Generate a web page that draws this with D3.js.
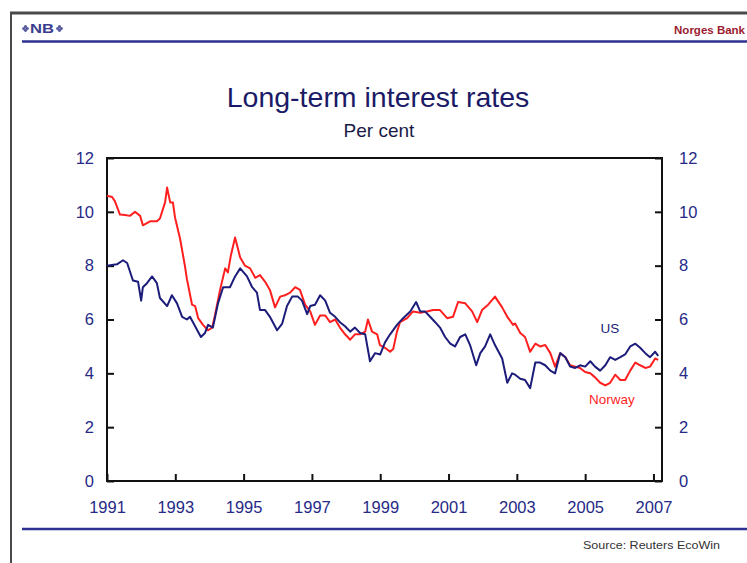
<!DOCTYPE html>
<html>
<head>
<meta charset="utf-8">
<script src="https://cdn.jsdelivr.net/npm/d3@7"></script>
<style>
  body { margin: 0; background: #fff; }
  svg { display: block; font-family: Arial, "Liberation Sans", sans-serif; }
  .tick text { fill: #262a86; font-size: 16.5px; }
  .tick line { stroke: #111; stroke-width: 2; }
</style>
</head>
<body>
<div id="chart"></div>
<script>
// long-term rates, per cent, [decimal year, value]
const norway = [
  [1991.00, 10.6], [1991.15, 10.55], [1991.23, 10.4], [1991.38, 9.9], [1991.53, 9.88],
  [1991.67, 9.85], [1991.82, 10.0], [1991.97, 9.85], [1992.05, 9.5], [1992.26, 9.65],
  [1992.46, 9.65], [1992.55, 9.75], [1992.70, 10.35], [1992.76, 10.9], [1992.85, 10.35],
  [1992.93, 10.35], [1992.99, 9.8], [1993.14, 9.0], [1993.28, 8.0], [1993.34, 7.5],
  [1993.49, 6.55], [1993.58, 6.5], [1993.67, 6.05], [1993.81, 5.8], [1993.96, 5.6],
  [1994.08, 5.7], [1994.16, 6.15], [1994.31, 7.1], [1994.46, 7.9], [1994.54, 7.75],
  [1994.63, 8.4], [1994.75, 9.05], [1994.90, 8.3], [1995.04, 8.0], [1995.19, 7.9],
  [1995.34, 7.55], [1995.48, 7.65], [1995.63, 7.4], [1995.77, 7.1], [1995.92, 6.45],
  [1996.07, 6.85], [1996.21, 6.9], [1996.36, 7.0], [1996.51, 7.2], [1996.65, 7.1],
  [1996.80, 6.55], [1996.95, 6.3], [1997.09, 5.8], [1997.24, 6.15], [1997.39, 6.15],
  [1997.53, 5.9], [1997.68, 6.0], [1997.82, 5.7], [1997.97, 5.45], [1998.12, 5.25],
  [1998.26, 5.45], [1998.41, 5.45], [1998.56, 5.55], [1998.64, 6.0], [1998.76, 5.55],
  [1998.91, 5.45], [1998.99, 5.05], [1999.14, 4.95], [1999.29, 4.8], [1999.38, 4.9],
  [1999.49, 5.55], [1999.58, 5.9], [1999.79, 6.05], [1999.96, 6.3], [2000.17, 6.25],
  [2000.37, 6.3], [2000.55, 6.35], [2000.75, 6.35], [2000.96, 6.05], [2001.13, 6.1],
  [2001.28, 6.65], [2001.49, 6.6], [2001.69, 6.3], [2001.84, 5.9], [2001.98, 6.35],
  [2002.16, 6.55], [2002.36, 6.85], [2002.57, 6.45], [2002.72, 6.1], [2002.89, 5.8],
  [2002.95, 5.85], [2003.10, 5.5], [2003.24, 5.35], [2003.39, 4.8], [2003.54, 5.1],
  [2003.68, 5.0], [2003.83, 5.05], [2003.98, 4.75], [2004.12, 4.25], [2004.27, 4.75],
  [2004.42, 4.6], [2004.56, 4.3], [2004.71, 4.25], [2004.85, 4.2], [2005.00, 4.05],
  [2005.15, 4.0], [2005.29, 3.85], [2005.44, 3.65], [2005.59, 3.55], [2005.73, 3.65],
  [2005.88, 3.95], [2006.03, 3.75], [2006.17, 3.75], [2006.32, 4.1], [2006.47, 4.4],
  [2006.61, 4.3], [2006.76, 4.2], [2006.90, 4.25], [2007.05, 4.55], [2007.14, 4.5]
];

const us = [
  [1991.00, 8.0], [1991.29, 8.05], [1991.47, 8.2], [1991.59, 8.1], [1991.76, 7.45],
  [1991.91, 7.4], [1992.00, 6.7], [1992.05, 7.2], [1992.17, 7.35], [1992.32, 7.6],
  [1992.46, 7.35], [1992.55, 6.8], [1992.76, 6.5], [1992.90, 6.9], [1993.05, 6.6],
  [1993.20, 6.1], [1993.34, 6.0], [1993.43, 6.1], [1993.58, 5.75], [1993.75, 5.35],
  [1993.87, 5.5], [1993.96, 5.8], [1994.10, 5.7], [1994.25, 6.6], [1994.40, 7.2],
  [1994.60, 7.2], [1994.75, 7.6], [1994.90, 7.9], [1995.10, 7.6], [1995.25, 7.2],
  [1995.39, 7.0], [1995.48, 6.35], [1995.63, 6.35], [1995.77, 6.1], [1995.98, 5.6],
  [1996.13, 5.85], [1996.27, 6.5], [1996.42, 6.85], [1996.59, 6.85], [1996.71, 6.7],
  [1996.86, 6.2], [1996.95, 6.5], [1997.09, 6.55], [1997.24, 6.9], [1997.39, 6.7],
  [1997.53, 6.25], [1997.68, 6.1], [1997.82, 5.9], [1997.97, 5.75], [1998.12, 5.55],
  [1998.26, 5.7], [1998.41, 5.5], [1998.56, 5.45], [1998.70, 4.45], [1998.85, 4.75],
  [1999.00, 4.7], [1999.14, 5.15], [1999.29, 5.45], [1999.49, 5.8], [1999.67, 6.05],
  [1999.88, 6.3], [2000.05, 6.65], [2000.17, 6.3], [2000.31, 6.3], [2000.46, 6.1],
  [2000.61, 5.9], [2000.75, 5.7], [2000.90, 5.35], [2001.05, 5.1], [2001.19, 5.0],
  [2001.34, 5.35], [2001.49, 5.45], [2001.63, 5.05], [2001.81, 4.3], [2001.93, 4.75],
  [2002.07, 5.0], [2002.22, 5.45], [2002.36, 5.05], [2002.57, 4.55], [2002.72, 3.65],
  [2002.86, 4.0], [2002.95, 3.95], [2003.10, 3.8], [2003.24, 3.75], [2003.39, 3.45],
  [2003.54, 4.4], [2003.68, 4.4], [2003.83, 4.3], [2003.98, 4.1], [2004.12, 4.0],
  [2004.27, 4.75], [2004.42, 4.6], [2004.56, 4.25], [2004.71, 4.2], [2004.85, 4.3],
  [2005.00, 4.25], [2005.15, 4.45], [2005.29, 4.25], [2005.44, 4.1], [2005.59, 4.3],
  [2005.73, 4.6], [2005.88, 4.5], [2006.03, 4.6], [2006.17, 4.7], [2006.32, 5.0],
  [2006.47, 5.1], [2006.61, 4.95], [2006.76, 4.75], [2006.90, 4.6], [2007.05, 4.8],
  [2007.14, 4.65]
];

const yearTicks = [1991, 1993, 1995, 1997, 1999, 2001, 2003, 2005, 2007];
const rateTicks = [0, 2, 4, 6, 8, 10, 12];

const width = 747;
const height = 563;
const NAVY = '#1c1c7a';
const RED = '#ff1f1f';

const svg = d3.select('#chart').append('svg')
  .attr('width', width)
  .attr('height', height);

// page frame
svg.append('line').attr('x1', 10).attr('x2', width).attr('y1', 13).attr('y2', 13)
  .attr('stroke', '#4a4a4a').attr('stroke-width', 3);
svg.append('line').attr('x1', 11).attr('x2', 11).attr('y1', 12).attr('y2', height)
  .attr('stroke', '#4a4a4a').attr('stroke-width', 2);

// header
svg.append('line').attr('x1', 22).attr('x2', width).attr('y1', 41.5).attr('y2', 41.5)
  .attr('stroke', '#2e3192').attr('stroke-width', 2.5);
svg.append('text').attr('x', 30).attr('y', 33)
  .attr('fill', '#3a3d8f').attr('font-size', 12.5).attr('font-weight', 'bold')
  .attr('textLength', 24).attr('lengthAdjust', 'spacingAndGlyphs')
  .text('NB');
// little flower marks either side of the logo
[[25.5, 28.5], [59.5, 28.5]].forEach(([cx, cy]) => {
  [[-1.8, 0], [1.8, 0], [0, -1.8], [0, 1.8]].forEach(([dx, dy]) => {
    svg.append('circle').attr('cx', cx + dx).attr('cy', cy + dy).attr('r', 1.6)
      .attr('fill', '#5a5d9f');
  });
});
svg.append('text').attr('x', 745).attr('y', 34)
  .attr('text-anchor', 'end').attr('fill', '#9b1c31')
  .attr('font-size', 11.5).attr('font-weight', 'bold')
  .text('Norges Bank');

// title
svg.append('text').attr('x', 378).attr('y', 107)
  .attr('text-anchor', 'middle').attr('fill', '#1b1a66').attr('font-size', 28.5)
  .text('Long-term interest rates');
svg.append('text').attr('x', 379).attr('y', 137)
  .attr('text-anchor', 'middle').attr('fill', '#1a1a48').attr('font-size', 19)
  .text('Per cent');

// scales
const x = d3.scaleLinear().domain([1991, 2007.25]).range([107, 662]);
const y = d3.scaleLinear().domain([0, 12]).range([481, 158]);

// axes (ticks point inward)
svg.append('g').attr('transform', `translate(0,${y(0)})`)
  .call(d3.axisBottom(x).tickValues(yearTicks).tickFormat(d3.format('d'))
    .tickSize(-7).tickPadding(20))
  .call(g => g.select('.domain').remove());

svg.append('g').attr('transform', `translate(${x.range()[0]},0)`)
  .call(d3.axisLeft(y).tickValues(rateTicks).tickSize(-7).tickPadding(13))
  .call(g => g.select('.domain').remove());

svg.append('g').attr('transform', `translate(${x.range()[1]},0)`)
  .call(d3.axisRight(y).tickValues(rateTicks).tickSize(-7).tickPadding(17))
  .call(g => g.select('.domain').remove());

// plot box
svg.append('rect')
  .attr('x', x.range()[0]).attr('y', y(12))
  .attr('width', x.range()[1] - x.range()[0]).attr('height', y(0) - y(12))
  .attr('fill', 'none').attr('stroke', '#111').attr('stroke-width', 2);

// lines
const line = d3.line().x(d => x(d[0])).y(d => y(d[1]));

svg.append('path').datum(norway)
  .attr('d', line).attr('fill', 'none')
  .attr('stroke', RED).attr('stroke-width', 2).attr('stroke-linejoin', 'round');

svg.append('path').datum(us)
  .attr('d', line).attr('fill', 'none')
  .attr('stroke', NAVY).attr('stroke-width', 2).attr('stroke-linejoin', 'round');

// series labels
svg.append('text').attr('x', 610).attr('y', 333)
  .attr('text-anchor', 'middle').attr('fill', NAVY).attr('font-size', 13.5)
  .text('US');
svg.append('text').attr('x', 612).attr('y', 404)
  .attr('text-anchor', 'middle').attr('fill', RED).attr('font-size', 13.5)
  .text('Norway');

// footer
svg.append('line').attr('x1', 22).attr('x2', width).attr('y1', 529).attr('y2', 529)
  .attr('stroke', '#2e3192').attr('stroke-width', 2.5);
svg.append('text').attr('x', 720).attr('y', 549)
  .attr('text-anchor', 'end').attr('fill', '#333').attr('font-size', 10.5)
  .attr('textLength', 137).attr('lengthAdjust', 'spacingAndGlyphs')
  .text('Source: Reuters EcoWin');
</script>
</body>
</html>
